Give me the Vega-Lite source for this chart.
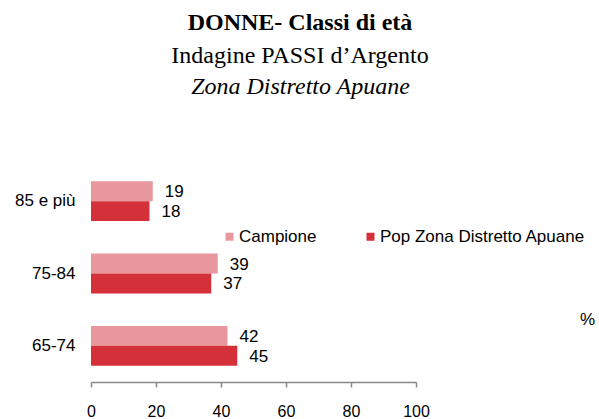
{
  "$schema": "https://vega.github.io/schema/vega-lite/v6.json",
  "width": 325,
  "height": 217,
  "autosize": "none",
  "padding": {"left": 91, "top": 165, "right": 183, "bottom": 37},
  "background": "white",
  "config": {"view": {"stroke": null}},
  "title": {
    "text": "DONNE- Classi di età",
    "subtitle": "Indagine PASSI d’Argento",
    "font": "Liberation Serif",
    "fontSize": 24,
    "fontWeight": "bold",
    "color": "black",
    "subtitleFont": "Liberation Serif",
    "subtitleFontSize": 24,
    "subtitleColor": "black",
    "subtitlePadding": 9,
    "anchor": "middle",
    "frame": "group",
    "dx": 46.5,
    "offset": 6
  },
  "data": {
    "values": [
      {"eta": "85 e più", "serie": "Campione", "valore": 19},
      {"eta": "85 e più", "serie": "Pop Zona Distretto Apuane", "valore": 18},
      {"eta": "75-84", "serie": "Campione", "valore": 39},
      {"eta": "75-84", "serie": "Pop Zona Distretto Apuane", "valore": 37},
      {"eta": "65-74", "serie": "Campione", "valore": 42},
      {"eta": "65-74", "serie": "Pop Zona Distretto Apuane", "valore": 45}
    ]
  },
  "encoding": {
    "y": {
      "field": "eta",
      "type": "nominal",
      "sort": ["85 e più", "75-84", "65-74"],
      "scale": {"paddingInner": 0.45, "paddingOuter": 0.225},
      "axis": {
        "domain": false,
        "ticks": false,
        "labelPadding": 16,
        "labelFont": "Liberation Sans",
        "labelFontSize": 17,
        "labelColor": "black",
        "title": "Zona Distretto Apuane",
        "titleFont": "Liberation Serif",
        "titleFontStyle": "italic",
        "titleFontWeight": "normal",
        "titleFontSize": 24,
        "titleColor": "black",
        "titleAngle": 0,
        "titleAlign": "center",
        "titleBaseline": "alphabetic",
        "titleX": 209,
        "titleY": -72
      }
    },
    "yOffset": {
      "field": "serie",
      "type": "nominal",
      "sort": ["Campione", "Pop Zona Distretto Apuane"],
      "scale": {"paddingInner": 0, "paddingOuter": 0}
    },
    "x": {
      "field": "valore",
      "type": "quantitative",
      "scale": {"domain": [0, 100], "nice": false},
      "axis": {
        "values": [0, 20, 40, 60, 80, 100],
        "grid": false,
        "domainColor": "#888888",
        "domainWidth": 1.5,
        "tickColor": "#888888",
        "tickWidth": 1.5,
        "tickSize": 5,
        "labelPadding": 16,
        "labelFont": "Liberation Sans",
        "labelFontSize": 16,
        "labelColor": "black",
        "labelFlush": false,
        "title": "%",
        "titleFont": "Liberation Sans",
        "titleFontSize": 17,
        "titleFontWeight": "normal",
        "titleColor": "black",
        "titleAlign": "center",
        "titleBaseline": "middle",
        "titleX": 496,
        "titleY": -63
      }
    }
  },
  "layer": [
    {
      "mark": {"type": "bar"},
      "encoding": {
        "color": {
          "field": "serie",
          "type": "nominal",
          "scale": {
            "domain": ["Campione", "Pop Zona Distretto Apuane"],
            "range": ["#E8989C", "#D4303A"]
          },
          "legend": {
            "orient": "none",
            "legendX": 130,
            "legendY": 63,
            "padding": 0,
            "direction": "horizontal",
            "columns": 2,
            "columnPadding": 45,
            "title": null,
            "symbolType": "square",
            "symbolSize": 64,
            "symbolStrokeWidth": 0,
            "labelFont": "Liberation Sans",
            "labelFontSize": 17,
            "labelColor": "black",
            "labelOffset": 1,
            "labelLimit": 400
          }
        }
      }
    },
    {
      "mark": {
        "type": "text",
        "align": "left",
        "baseline": "middle",
        "dx": 12,
        "dy": 1,
        "font": "Liberation Sans",
        "fontSize": 17,
        "color": "black"
      },
      "encoding": {"text": {"field": "valore", "type": "quantitative"}}
    }
  ]
}
